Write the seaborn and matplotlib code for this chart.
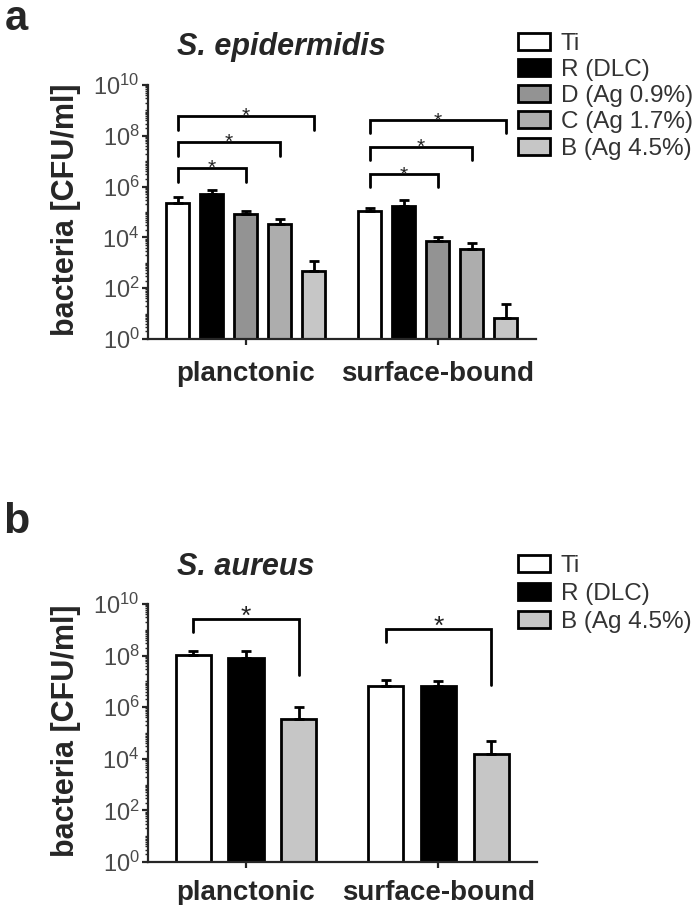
import numpy as np
import pandas as pd
import matplotlib
matplotlib.use("Agg")
import matplotlib.pyplot as plt
from matplotlib.ticker import FixedLocator, NullFormatter
import seaborn as sns

# ---------------- data ----------------
groups = ["planctonic", "surface-bound"]

surf_a = ["Ti", "R (DLC)", "D (Ag 0.9%)", "C (Ag 1.7%)", "B (Ag 4.5%)"]
colors_a = ["#ffffff", "#000000", "#939393", "#adadad", "#c6c6c6"]
plan_a = [2.2e5, 5.1e5, 8.1e4, 3.4e4, 490]
plan_a_err = [4.0e5, 7.4e5, 1.1e5, 5.5e4, 1200]
surfb_a = [1.1e5, 1.8e5, 7.4e3, 3.6e3, 7]
surfb_a_err = [1.5e5, 3.0e5, 1.07e4, 6.2e3, 24]

surf_b = ["Ti", "R (DLC)", "B (Ag 4.5%)"]
colors_b = ["#ffffff", "#000000", "#c6c6c6"]
plan_b = [1.05e8, 8.3e7, 3.6e5]
plan_b_err = [1.5e8, 1.5e8, 1.0e6]
surfb_b = [6.6e6, 6.8e6, 1.6e4]
surfb_b_err = [1.1e7, 1.0e7, 4.9e4]

y_major_exps = [0, 2, 4, 6, 8, 10]

# significance brackets: (group, from, to, bar-level exp, left-leg exp, right-leg exp)
sig_a = [
    ("planctonic", "Ti", "D (Ag 0.9%)", 6.74, 6.18, 6.18),
    ("planctonic", "Ti", "C (Ag 1.7%)", 7.77, 7.22, 7.22),
    ("planctonic", "Ti", "B (Ag 4.5%)", 8.79, 8.23, 8.23),
    ("surface-bound", "Ti", "D (Ag 0.9%)", 6.48, 5.97, 5.97),
    ("surface-bound", "Ti", "C (Ag 1.7%)", 7.56, 7.06, 7.06),
    ("surface-bound", "Ti", "B (Ag 4.5%)", 8.61, 8.10, 8.10),
]
sig_b = [
    ("planctonic", "Ti", "B (Ag 4.5%)", 9.43, 8.90, 7.25),
    ("surface-bound", "Ti", "B (Ag 4.5%)", 9.04, 8.54, 6.86),
]

# ---------------- style ----------------
sns.set_style("ticks")
plt.rcParams["font.family"] = ["Liberation Sans", "DejaVu Sans"]
plt.rcParams["mathtext.default"] = "regular"
plt.rcParams["axes.linewidth"] = 1.6

fig = plt.figure(figsize=(7.0, 9.05), dpi=100)
ax_a = fig.add_axes([0.2114, 0.6254, 0.5543, 0.2807])
ax_b = fig.add_axes([0.2114, 0.0475, 0.5557, 0.2851])


def build_df(surfaces, plan, surfb, plan_err, surfb_err):
    rows = []
    for s, v, e in zip(surfaces, plan, plan_err):
        rows.append(dict(group="planctonic", surface=s, value=v, err=e))
    for s, v, e in zip(surfaces, surfb, surfb_err):
        rows.append(dict(group="surface-bound", surface=s, value=v, err=e))
    return pd.DataFrame(rows)


def draw_panel(ax, df, surfaces, colors, width, gap, sig, star_size, star_off,
               leg_anchor, leg_spacing, xpad):
    sns.barplot(data=df, x="group", y="value", hue="surface", order=groups,
                hue_order=surfaces, palette=colors, edgecolor="black",
                linewidth=2.0, width=width, gap=gap, errorbar=None, ax=ax,
                saturation=1)
    ax.set_yscale("log")
    centers = {}
    for cont, s in zip(ax.containers, surfaces):
        for patch, g in zip(cont, groups):
            cx = patch.get_x() + patch.get_width() / 2
            centers[(g, s)] = cx
            row = df[(df.group == g) & (df.surface == s)].iloc[0]
            ax.errorbar(cx, row.value, yerr=[[0], [row.err - row.value]],
                        fmt="none", ecolor="black", elinewidth=2.0,
                        capsize=3.5, capthick=2.0, zorder=1)
    for g, s1, s2, ybar, yl, yr in sig:
        x1, x2 = centers[(g, s1)], centers[(g, s2)]
        ax.plot([x1, x1, x2, x2], [10 ** yl, 10 ** ybar, 10 ** ybar, 10 ** yr],
                color="black", lw=2.0, solid_joinstyle="miter", clip_on=False)
        ax.annotate("*", xy=((x1 + x2) / 2, 10 ** ybar), xytext=(0, star_off),
                    textcoords="offset points", ha="center", va="baseline",
                    fontsize=star_size, color="#222222")
    ax.set_ylim(1, 1e10)
    ax.set_xlim(-0.51, 1.512)
    ax.yaxis.set_major_locator(FixedLocator([10.0 ** k for k in y_major_exps]))
    minors = [m * 10.0 ** k for k in range(0, 10) for m in range(1, 10)
              if not (m == 1 and k in y_major_exps)]
    ax.yaxis.set_minor_locator(FixedLocator(minors))
    ax.yaxis.set_minor_formatter(NullFormatter())
    ax.set_yticklabels([r"$10^{%d}$" % k for k in y_major_exps])
    ax.tick_params(axis="y", which="major", length=4, width=1.6,
                   labelsize=17, labelcolor="#4a4a4a", pad=2)
    ax.tick_params(axis="y", which="minor", length=2.5, width=1.0)
    ax.tick_params(axis="x", which="major", length=4, width=1.6,
                   labelsize=20, pad=xpad)
    for lab in ax.get_xticklabels():
        lab.set_fontweight("bold")
    ax.set_xlabel("")
    ax.set_ylabel("")
    sns.despine(ax=ax)
    handles, labels = ax.get_legend_handles_labels()
    ax.legend(handles, labels, loc="upper left", bbox_to_anchor=leg_anchor,
              bbox_transform=fig.transFigure, frameon=False, fontsize=17.5,
              handlelength=1.3, handleheight=0.7, handletextpad=0.45,
              labelspacing=leg_spacing, borderpad=0, borderaxespad=0,
              labelcolor="#333333")


df_a = build_df(surf_a, plan_a, surfb_a, plan_a_err, surfb_a_err)
df_b = build_df(surf_b, plan_b, surfb_b, plan_b_err, surfb_b_err)

draw_panel(ax_a, df_a, surf_a, colors_a, 0.885, 0.32, sig_a, 15, -4.5,
           (518 / 700, 1 - 33 / 905), 0.17, 12)
draw_panel(ax_b, df_b, surf_b, colors_b, 0.822, 0.33, sig_b, 19, -3.5,
           (518 / 700, 1 - 555 / 905), 0.25, 9)

# titles, panel letters, y labels
fig.text(177 / 700, 1 - 55 / 905, "S. epidermidis", fontsize=22,
         fontweight="bold", fontstyle="italic", ha="left", va="baseline")
fig.text(177 / 700, 1 - 575 / 905, "S. aureus", fontsize=22,
         fontweight="bold", fontstyle="italic", ha="left", va="baseline")
fig.text(5 / 700, 1 - 30 / 905, "a", fontsize=30, fontweight="bold",
         ha="left", va="baseline")
fig.text(3 / 700, 1 - 533 / 905, "b", fontsize=31, fontweight="bold",
         ha="left", va="baseline")
fig.text(66 / 700, 1 - 210 / 905, "bacteria [CFU/ml]", fontsize=22,
         fontweight="bold", rotation=90, ha="center", va="center")
fig.text(66 / 700, 1 - 731 / 905, "bacteria [CFU/ml]", fontsize=22,
         fontweight="bold", rotation=90, ha="center", va="center")

fig.savefig("out.png", dpi=100)
